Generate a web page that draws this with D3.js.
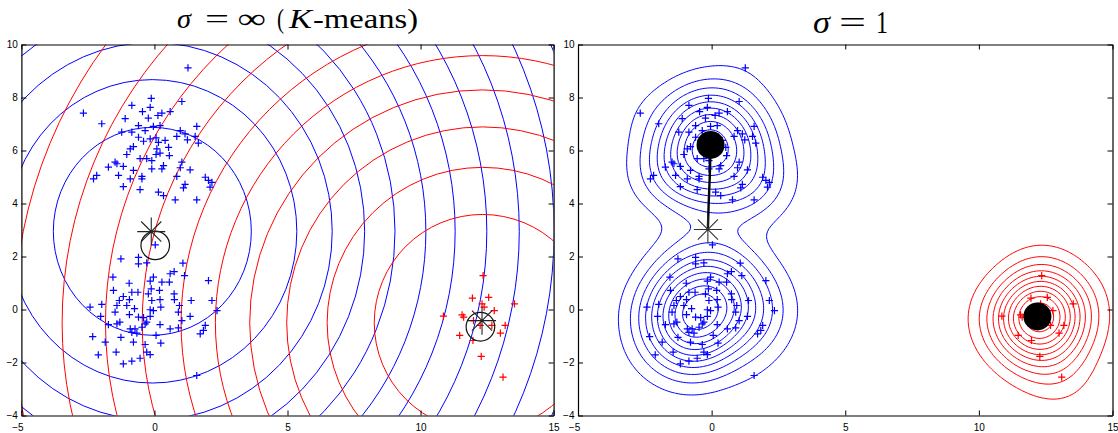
<!DOCTYPE html>
<html>
<head>
<meta charset="utf-8">
<script src="https://cdn.jsdelivr.net/npm/d3@7"></script>
<style>
  body { margin: 0; background: #fff; }
  svg { display: block; }
  .tick text { font-family: "Liberation Sans", Arial, sans-serif; font-size: 10px; fill: #000; }
  .title { font-family: "Liberation Serif", "Times New Roman", serif; fill: #000; }
</style>
</head>
<body>
<div id="chart"></div>
<script>
// Two panels: K-means (sigma = inf) and Gaussian mean-shift with sigma = 1

const xDomain = [-5, 15];
const yDomain = [-4, 10];
const xTicks = [-5, 0, 5, 10, 15];
const yTicks = [-4, -2, 0, 2, 4, 6, 8, 10];

// data points, same in both panels
const upperPts = [
  [1.26,9.12],[-2.67,7.41],[-0.12,7.97],[1.03,7.85],[-0.85,7.70],[-0.45,7.47],[-0.16,7.63],[0.28,7.41],
  [0.59,7.47],[0.13,7.32],[-0.23,7.22],[-1.10,7.20],[-1.98,7.01],[-0.60,6.94],[-0.35,6.75],[-0.04,6.91],
  [0.21,6.94],[-0.85,6.69],[-1.23,6.69],[0.97,6.75],[0.84,6.53],[1.15,6.63],[1.59,6.91],[1.53,6.53],
  [1.24,6.40],[1.65,6.28],[-0.60,6.50],[-0.16,6.44],[0.06,6.48],[0.40,6.38],[0.15,6.31],[-0.41,6.35],
  [-0.79,6.15],[-0.91,6.06],[0.09,6.06],[0.53,6.12],[0.21,5.90],[0.06,5.85],[-1.04,5.85],[0.56,5.81],
  [-0.54,5.69],[-0.29,5.69],[-0.10,5.62],[-1.48,5.56],[-1.41,5.50],[-1.17,5.40],[-1.73,5.37],[0.34,5.43],
  [0.28,5.31],[-0.10,5.31],[1.03,5.56],[0.97,5.35],[1.34,5.27],[-0.79,5.25],[-0.47,5.02],[-1.35,5.06],
  [-2.17,5.06],[-2.29,4.93],[-0.91,4.93],[-0.47,4.93],[0.84,5.02],[1.91,4.99],[2.03,4.87],[2.16,4.80],
  [-1.17,4.64],[1.15,4.72],[1.09,4.59],[2.09,4.62],[-0.54,4.52],[0.15,4.43],[0.34,4.30],[0.78,4.14],
  [1.59,4.14]
];
const lowerPts = [
  [0.03,2.44],[-1.26,1.91],[-0.60,1.97],[-0.60,1.72],[-0.29,1.76],[1.07,1.75],[1.13,1.28],[-1.56,1.22],
  [-0.04,1.22],[0.59,1.35],[0.74,1.43],[-0.16,1.07],[0.28,1.03],[0.56,1.03],[2.03,1.09],[-0.95,0.99],
  [-1.54,0.72],[-1.17,0.49],[-0.85,0.65],[-0.62,0.65],[-0.23,0.59],[-0.12,0.78],[0.19,0.72],[0.74,0.59],
  [-1.32,0.34],[-0.94,0.37],[-0.10,0.34],[0.21,0.37],[0.75,0.37],[1.38,0.34],[2.16,0.34],[-2.42,0.09],
  [-1.98,0.19],[-1.41,0.15],[-1.04,0.15],[-0.75,0.03],[-0.16,-0.01],[-0.04,-0.04],[0.24,0.09],[0.94,0.15],
  [0.90,-0.10],[2.35,-0.04],[-2.02,-0.26],[-1.48,-0.10],[-0.94,-0.19],[-0.60,-0.29],[-0.41,-0.31],[-0.16,-0.26],
  [1.34,-0.26],[1.03,-0.42],[-1.73,-0.57],[-1.41,-0.54],[-1.30,-0.48],[-0.35,-0.54],[-0.29,-0.48],[0.21,-0.57],
  [-0.73,-0.73],[-0.91,-0.73],[-0.47,-0.67],[0.59,-0.73],[0.90,-0.69],[1.91,-0.60],[1.84,-0.79],[1.72,-0.92],
  [-0.85,-0.86],[-0.66,-0.89],[0.06,-0.98],[-1.26,-1.05],[-2.32,-1.02],[-1.85,-1.23],[-0.79,-1.23],[-0.35,-1.32],
  [0.24,-1.27],[-1.44,-1.61],[-0.29,-1.61],[-0.16,-1.70],[-2.11,-1.71],[-0.54,-1.84],[-0.85,-1.95],[-1.17,-2.05],
  [1.59,-2.49]
];
const redPts = [
  [12.35,1.28],[11.95,0.43],[12.56,0.46],[12.31,0.21],[13.53,0.21],[10.86,-0.25],[11.56,-0.20],[11.62,-0.29],
  [12.77,-0.04],[11.99,-0.42],[12.24,-0.60],[12.68,-0.60],[13.18,-0.60],[13.00,-0.89],[11.47,-0.98],[11.97,-1.17],
  [12.28,-1.77],[13.10,-2.55],[12.39,0.09]
];

// K-means panel: level curves around each centre (horizontal semi-axes; blue ones are a little taller)
const blueCentre = [-0.08, 2.95];
const blueAspect = 1.05;
const redCentre = [12.33, -0.5];
const blueRadii = [3.72, 5.43, 6.76, 7.98, 9.12, 10.28, 11.38, 12.57, 13.79, 15.1, 16.4];
const redRadii = [4.07, 5.84, 7.36, 8.75, 10.04, 11.33, 12.79, 14.17, 15.8, 17.6];
const kmStars = [[-0.12, 2.94], [12.31, -0.42]];
const kmRings = [[0.03, 2.42], [12.25, -0.65]];

// sigma = 1 panel
const sigma = 1;
const nLevels = 10;
const modes = [[-0.04, 6.21], [12.19, -0.26]];
const msStar = [-0.14, 3.02];
const msPath = [[-0.14, 3.02], [-0.11, 4.0], [-0.07, 5.0], [-0.04, 6.21]];

// titles: [text, style, x, width]
const titleLeft = [["σ", "italic", 177, 14], ["=", "normal", 205, 24], ["∞", "normal", 237.5, 28.5],
  ["(", "normal", 277, 7], ["K", "italic", 289, 23], ["-means)", "normal", 313, 105]];
const titleRight = [["σ", "italic", 813, 17], ["=", "normal", 839, 27], ["1", "normal", 876, 12]];

const W = 1118, H = 433;
const plotTop = 44.5, plotBottom = 415.5;
const panels = [
  { left: 21.4, right: 553.6, title: titleLeft, ty: 28, fs: 28 },
  { left: 578, right: 1112.5, title: titleRight, ty: 33, fs: 32 }
];

const svg = d3.select("#chart").append("svg").attr("width", W).attr("height", H);

const plusPath = "M-3.6,0H3.6M0,-3.6V3.6";
const clusters = [
  { pts: upperPts, color: "#0000ff" },
  { pts: lowerPts, color: "#0000ff" },
  { pts: redPts, color: "#ff0000" }
];

function starPath(s) {
  const d = s * 0.72;
  return `M${-s},0H${s}M0,${-s}V${s}M${-d},${-d}L${d},${d}M${-d},${d}L${d},${-d}`;
}

panels.forEach((p, pi) => {
  const x = d3.scaleLinear().domain(xDomain).range([p.left, p.right]);
  const y = d3.scaleLinear().domain(yDomain).range([plotBottom, plotTop]);
  const g = svg.append("g");

  const clipId = "clip" + pi;
  svg.append("clipPath").attr("id", clipId)
    .append("rect").attr("x", p.left).attr("y", plotTop)
    .attr("width", p.right - p.left).attr("height", plotBottom - plotTop);
  const plot = g.append("g").attr("clip-path", `url(#${clipId})`);
  const k = x(1) - x(0);

  if (pi === 0) {
    // K-means level curves
    plot.append("g").selectAll("ellipse").data(blueRadii).join("ellipse")
      .attr("cx", x(blueCentre[0])).attr("cy", y(blueCentre[1]))
      .attr("rx", r => r * k).attr("ry", r => r * blueAspect * k)
      .attr("fill", "none").attr("stroke", "#0000ff").attr("stroke-width", 1);
    plot.append("g").selectAll("circle").data(redRadii).join("circle")
      .attr("cx", x(redCentre[0])).attr("cy", y(redCentre[1]))
      .attr("r", r => r * k)
      .attr("fill", "none").attr("stroke", "#ff0000").attr("stroke-width", 1);
  } else {
    // Gaussian kernel density contours per cluster
    const step = 0.1;
    const nx = Math.round((xDomain[1] - xDomain[0]) / step);
    const ny = Math.round((yDomain[1] - yDomain[0]) / step);
    const proj = d3.geoPath(d3.geoTransform({
      point(cx, cy) { this.stream.point(x(xDomain[0] + cx * step), y(yDomain[0] + cy * step)); }
    }));
    const groups = [
      { pts: upperPts.concat(lowerPts), color: "#0000ff" },
      { pts: redPts, color: "#ff0000" }
    ];
    groups.forEach(gr => {
      const values = new Float64Array(nx * ny);
      for (let j = 0; j < ny; j++) {
        const yy = yDomain[0] + (j + 0.5) * step;
        for (let i = 0; i < nx; i++) {
          const xx = xDomain[0] + (i + 0.5) * step;
          let s = 0;
          for (const [px, py] of gr.pts) {
            const dx = xx - px, dy = yy - py;
            s += Math.exp(-(dx * dx + dy * dy) / (2 * sigma * sigma));
          }
          values[j * nx + i] = s;
        }
      }
      const mx = d3.max(values);
      const levels = d3.range(1, nLevels + 1).map(l => mx * l / (nLevels + 1));
      const cs = d3.contours().size([nx, ny]).thresholds(levels)(values);
      plot.append("g").selectAll("path").data(cs).join("path")
        .attr("d", proj)
        .attr("fill", "none").attr("stroke", gr.color).attr("stroke-width", 1);
    });
  }

  // data points
  clusters.forEach(c => {
    g.append("g").selectAll("path").data(c.pts).join("path")
      .attr("transform", d => `translate(${x(d[0])},${y(d[1])})`)
      .attr("d", plusPath)
      .attr("stroke", c.color).attr("stroke-width", 1.2).attr("fill", "none");
  });

  if (pi === 0) {
    g.append("g").selectAll("circle").data(kmRings).join("circle")
      .attr("cx", d => x(d[0])).attr("cy", d => y(d[1]))
      .attr("r", 14.3).attr("fill", "none").attr("stroke", "#111").attr("stroke-width", 1.2);
    g.append("g").selectAll("path").data(kmStars).join("path")
      .attr("transform", d => `translate(${x(d[0])},${y(d[1])})`)
      .attr("d", starPath(14)).attr("stroke", "#222").attr("stroke-width", 1.1).attr("fill", "none");
  } else {
    g.append("path")
      .attr("d", d3.line().x(d => x(d[0])).y(d => y(d[1])).curve(d3.curveCatmullRom)(msPath))
      .attr("stroke", "#000").attr("stroke-width", 2.4).attr("fill", "none");
    g.append("g").selectAll("circle").data(modes).join("circle")
      .attr("cx", d => x(d[0])).attr("cy", d => y(d[1]))
      .attr("r", 14).attr("fill", "#000");
    g.append("path")
      .attr("transform", `translate(${x(msStar[0])},${y(msStar[1])})`)
      .attr("d", starPath(14)).attr("stroke", "#333").attr("stroke-width", 1.1).attr("fill", "none");
  }

  // axes box with inward ticks
  const fmt = d => (d < 0 ? "\u2212" + Math.abs(d) : String(d));
  const axes = g.append("g");
  axes.append("g").attr("transform", `translate(0,${plotBottom})`)
    .call(d3.axisBottom(x).tickValues(xTicks).tickSizeInner(-5).tickSizeOuter(0).tickPadding(8).tickFormat(fmt))
    .selectAll(".tick text").filter(d => d === xDomain[0]).attr("dx", -4);
  axes.append("g").attr("transform", `translate(0,${plotTop})`)
    .call(d3.axisTop(x).tickValues(xTicks).tickSizeInner(-5).tickSizeOuter(0).tickFormat(""));
  axes.append("g").attr("transform", `translate(${p.left},0)`)
    .call(d3.axisLeft(y).tickValues(yTicks).tickSizeInner(-5).tickSizeOuter(0).tickPadding(3.5).tickFormat(fmt));
  axes.append("g").attr("transform", `translate(${p.right},0)`)
    .call(d3.axisRight(y).tickValues(yTicks).tickSizeInner(-5).tickSizeOuter(0).tickFormat(""));
  axes.selectAll(".domain").attr("stroke", "#000").attr("stroke-width", 1.2);
  axes.selectAll(".tick line").attr("stroke", "#000");

  // title, each piece placed and sized separately (math-style spacing)
  const t = svg.append("g").attr("class", "title").attr("font-size", p.fs);
  p.title.forEach(([s, st, tx, tw]) => t.append("text")
    .attr("x", tx).attr("y", p.ty).attr("font-style", st)
    .attr("textLength", tw).attr("lengthAdjust", "spacingAndGlyphs").text(s));
});
</script>
</body>
</html>
